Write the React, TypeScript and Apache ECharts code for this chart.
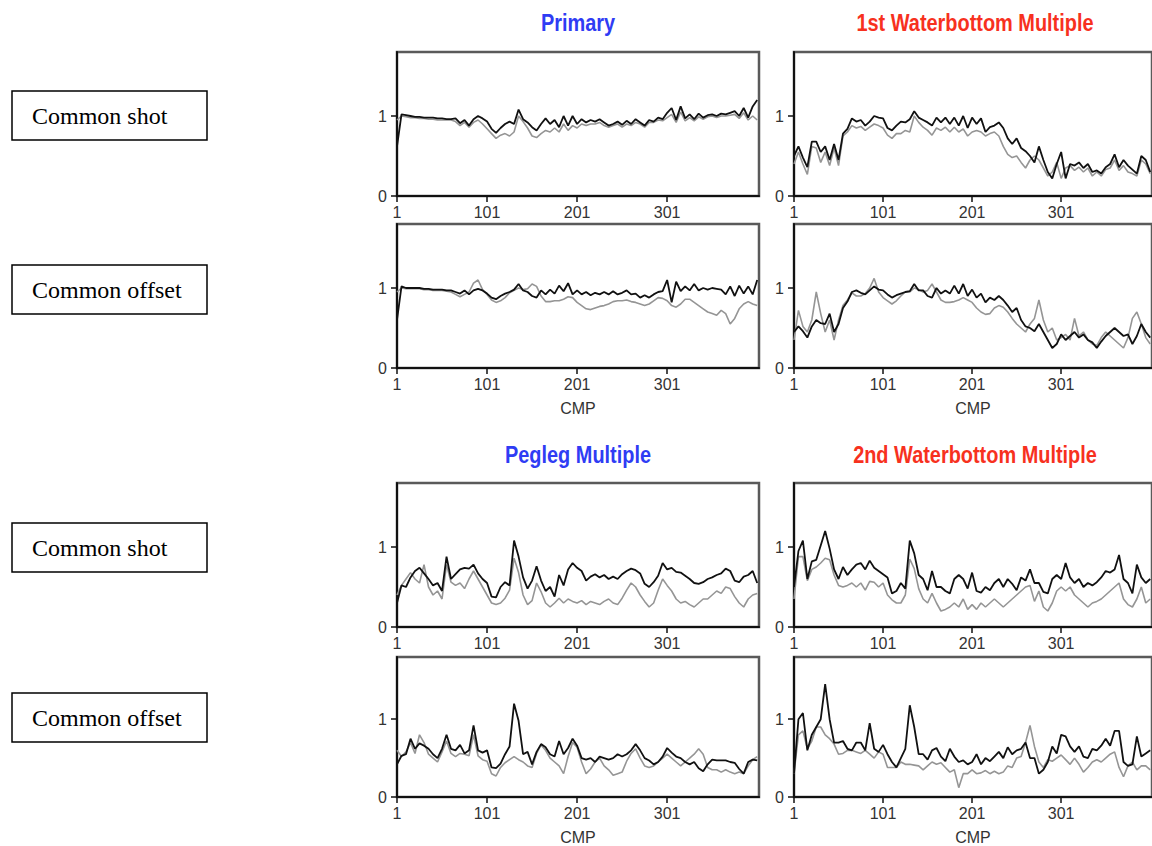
import React, { useEffect, useRef } from "react";
import * as echarts from "echarts";

const CMP = [
  1, 6, 11, 16, 21, 26, 31, 36, 41, 46,
  51, 56, 61, 66, 71, 76, 81, 86, 91, 96,
  101, 106, 111, 116, 121, 126, 131, 136, 141, 146,
  151, 156, 161, 166, 171, 176, 181, 186, 191, 196,
  201, 206, 211, 216, 221, 226, 231, 236, 241, 246,
  251, 256, 261, 266, 271, 276, 281, 286, 291, 296,
  301, 306, 311, 316, 321, 326, 331, 336, 341, 346,
  351, 356, 361, 366, 371, 376, 381, 386, 391, 396,
  401,
];

const X_TICKS = [1, 101, 201, 301];
const Y_TICKS = [0, 1];
const PANEL_TITLES = ["Primary", "1st Waterbottom Multiple", "Pegleg Multiple", "2nd Waterbottom Multiple"];
const ROW_LABELS = ["Common shot", "Common offset", "Common shot", "Common offset"];

// Primary - common shot
const PRIMARY_SHOT_BLACK = [
  0.62, 1.02, 1.01, 1.0, 0.99, 0.99, 0.98, 0.98, 0.98, 0.97,
  0.97, 0.96, 0.96, 0.97, 0.91, 0.95, 0.88, 0.96, 1.0, 0.97,
  0.93, 0.84, 0.79, 0.85, 0.9, 0.93, 0.9, 1.08, 0.96, 0.92,
  0.86, 0.82, 0.9, 0.97, 0.9, 0.95, 0.86, 1.0, 0.88, 1.0,
  0.9, 0.96, 0.92, 0.95, 0.93, 0.96, 0.92, 0.88, 0.9, 0.93,
  0.89, 0.94, 0.9, 0.96, 0.92, 0.88, 0.95, 0.93, 0.98, 0.96,
  1.04, 1.1, 0.95, 1.12, 0.97, 1.02, 0.96, 1.03, 0.98, 1.01,
  1.02, 1.0, 1.03, 1.02, 1.04, 1.06, 1.0, 1.1, 0.98, 1.12,
  1.2,
];
const PRIMARY_SHOT_GRAY = [
  0.95, 1.0, 0.99, 0.98, 0.98, 0.97, 0.97, 0.96, 0.96, 0.95,
  0.95, 0.95, 0.95, 0.93, 0.88, 0.92, 0.86, 0.92, 0.95, 0.9,
  0.84, 0.78, 0.72, 0.76, 0.78, 0.75, 0.8, 1.0, 0.93, 0.85,
  0.75, 0.73, 0.78, 0.82, 0.8, 0.85, 0.8, 0.9, 0.82, 0.88,
  0.85, 0.9, 0.88, 0.9, 0.9, 0.92, 0.88, 0.86, 0.88, 0.9,
  0.86, 0.9, 0.88, 0.92, 0.9, 0.86, 0.92, 0.92, 0.95, 0.94,
  0.98, 1.02, 0.92, 1.05, 0.94, 0.98, 0.94, 0.99, 0.96, 0.99,
  1.0, 0.98, 1.0, 1.0, 1.01, 1.02, 0.97, 1.04, 0.95, 1.0,
  0.95,
];

// Primary - common offset
const PRIMARY_OFFSET_BLACK = [
  0.6, 1.02, 1.0, 1.0, 1.0, 1.0, 0.99, 0.99, 0.98, 0.98,
  0.98, 0.97, 0.97, 0.95, 0.93, 0.97, 0.92, 0.97, 0.99, 0.97,
  0.93, 0.88, 0.86, 0.9, 0.93, 0.95, 0.98, 1.05, 0.97, 0.95,
  0.9, 0.88, 0.97, 0.92, 0.98, 0.93, 1.03, 0.96, 1.06, 0.92,
  0.97, 0.92, 0.95, 0.91, 0.94, 0.92, 0.95, 0.92, 0.96, 0.92,
  0.94, 0.97, 0.92, 0.93, 0.88, 0.91, 0.88, 0.92, 0.95, 0.96,
  1.1, 0.82, 1.08, 0.96, 1.02, 0.97, 1.05, 0.97, 1.0, 0.98,
  1.0, 0.99, 0.98, 0.92, 1.02, 0.9, 1.03, 0.93, 1.02, 0.92,
  1.1,
];
const PRIMARY_OFFSET_GRAY = [
  0.95, 1.0, 0.99, 0.99, 0.99, 0.99, 0.98, 0.98, 0.97, 0.97,
  0.97, 0.96, 0.95, 0.92, 0.89, 0.92, 0.95, 1.06, 1.1, 0.98,
  0.92, 0.85, 0.82, 0.84, 0.88, 0.94, 0.97, 1.0, 0.98, 0.99,
  1.05, 1.02, 0.9, 0.83, 0.83, 0.84, 0.84, 0.86, 0.89, 0.88,
  0.82, 0.78, 0.74, 0.73, 0.75, 0.77, 0.78, 0.8, 0.83, 0.84,
  0.84, 0.85, 0.83, 0.82, 0.8, 0.78, 0.8, 0.84, 0.88, 0.87,
  0.84, 0.78, 0.76, 0.8, 0.86, 0.86, 0.82, 0.78, 0.74, 0.7,
  0.68, 0.66, 0.72, 0.68, 0.55, 0.62, 0.74, 0.8, 0.83, 0.8,
  0.78,
];

// 1st waterbottom multiple - common shot
const WB1_SHOT_BLACK = [
  0.5, 0.62, 0.48, 0.36, 0.68, 0.68, 0.55, 0.62, 0.45, 0.65,
  0.45, 0.78, 0.84, 0.97, 0.93, 0.95, 0.88, 0.93, 1.0, 0.98,
  0.97, 0.85, 0.82, 0.88, 0.93, 0.92, 0.96, 1.06, 0.98, 0.95,
  0.92, 0.88, 0.98, 0.92, 0.98, 0.9, 0.98, 0.88, 1.0, 0.85,
  0.98, 0.9, 0.97, 0.8, 0.86, 0.88, 0.92, 0.85, 0.72, 0.65,
  0.72, 0.6, 0.56, 0.5, 0.42, 0.62, 0.45, 0.3, 0.22, 0.4,
  0.55, 0.22, 0.4, 0.38, 0.42, 0.35, 0.4, 0.3, 0.32, 0.28,
  0.36, 0.4, 0.52, 0.36, 0.45, 0.38, 0.33, 0.28, 0.5, 0.45,
  0.3,
];
const WB1_SHOT_GRAY = [
  0.4, 0.55, 0.4, 0.27, 0.62, 0.6, 0.42, 0.55, 0.38, 0.6,
  0.38, 0.75, 0.8, 0.88, 0.85, 0.87, 0.82, 0.86, 0.9, 0.88,
  0.85, 0.76, 0.72, 0.78, 0.78, 0.82, 0.8, 1.0, 0.92, 0.86,
  0.82, 0.76, 0.85, 0.82, 0.86, 0.8, 0.86, 0.8, 0.84, 0.75,
  0.8, 0.82, 0.8, 0.75, 0.78, 0.8, 0.75, 0.62, 0.52, 0.48,
  0.5, 0.42, 0.35, 0.45, 0.5, 0.45, 0.35, 0.25, 0.3, 0.42,
  0.22, 0.35, 0.38, 0.32, 0.36, 0.3, 0.35, 0.25, 0.3, 0.25,
  0.33, 0.35, 0.45, 0.32, 0.38, 0.3, 0.28, 0.25, 0.45, 0.4,
  0.28,
];

// 1st waterbottom multiple - common offset
const WB1_OFFSET_BLACK = [
  0.45, 0.52, 0.46, 0.38, 0.52, 0.6, 0.56, 0.55, 0.68, 0.45,
  0.55, 0.75, 0.83, 0.95, 0.97, 0.94, 0.92, 0.97, 1.02, 0.98,
  0.97, 0.92, 0.88, 0.91, 0.93, 0.95, 0.96, 1.05, 0.97, 0.97,
  0.9, 0.88, 1.0, 0.93, 0.97, 0.93, 1.03, 0.93, 1.05, 0.9,
  0.98, 0.88, 0.93, 0.82, 0.88, 0.85, 0.9, 0.85, 0.78, 0.7,
  0.75, 0.6, 0.52, 0.5, 0.46, 0.55, 0.45, 0.35, 0.25, 0.3,
  0.42, 0.35, 0.4, 0.45, 0.38, 0.42, 0.35, 0.32, 0.25, 0.33,
  0.4, 0.45, 0.5, 0.45, 0.4, 0.42, 0.3, 0.4, 0.55, 0.45,
  0.38,
];
const WB1_OFFSET_GRAY = [
  0.35, 0.72, 0.52, 0.45, 0.6, 0.95, 0.68, 0.45, 0.6, 0.35,
  0.6, 0.78, 0.85, 0.94, 0.9, 0.9, 0.93, 1.0, 1.12, 0.95,
  0.88, 0.84, 0.8, 0.84, 0.9, 0.95, 0.95, 1.0, 0.98, 0.95,
  0.97, 1.05, 0.95, 0.85, 0.82, 0.82, 0.83, 0.85, 0.88, 0.85,
  0.82, 0.75, 0.7, 0.67, 0.68, 0.75, 0.78, 0.76, 0.7, 0.62,
  0.55, 0.5, 0.45, 0.55, 0.62, 0.85, 0.6, 0.45, 0.5, 0.35,
  0.38, 0.42, 0.35, 0.62, 0.4, 0.45, 0.35, 0.3, 0.28, 0.38,
  0.45, 0.4, 0.35, 0.3, 0.25, 0.38, 0.62, 0.7, 0.55, 0.38,
  0.3,
];

// Pegleg multiple - common shot
const PEGLEG_SHOT_BLACK = [
  0.3, 0.52, 0.5, 0.62, 0.7, 0.74, 0.67, 0.6, 0.52, 0.55,
  0.45, 0.88, 0.6, 0.66, 0.72, 0.74, 0.73, 0.78, 0.67, 0.6,
  0.55, 0.38, 0.37, 0.5, 0.56, 0.52, 1.08, 0.88, 0.62, 0.48,
  0.58, 0.76, 0.58, 0.45, 0.5, 0.38, 0.65, 0.52, 0.72, 0.8,
  0.74, 0.7, 0.58, 0.63, 0.66, 0.62, 0.65, 0.6, 0.63, 0.6,
  0.66, 0.7, 0.73, 0.71, 0.67, 0.54, 0.5, 0.56, 0.64, 0.8,
  0.72, 0.74, 0.69, 0.68, 0.64, 0.6, 0.55, 0.54, 0.56, 0.6,
  0.62, 0.65, 0.67, 0.73, 0.7, 0.58, 0.56, 0.63, 0.65, 0.7,
  0.55,
];
const PEGLEG_SHOT_GRAY = [
  0.4, 0.52, 0.6, 0.68, 0.6, 0.55, 0.78, 0.5, 0.4, 0.45,
  0.35, 0.78, 0.56, 0.52, 0.55, 0.48, 0.6, 0.7, 0.6, 0.5,
  0.4, 0.3, 0.28, 0.3, 0.36, 0.46, 0.86, 0.68, 0.4, 0.28,
  0.33, 0.55, 0.44, 0.3, 0.25, 0.3, 0.36, 0.3, 0.35, 0.32,
  0.3, 0.33, 0.28, 0.32, 0.3, 0.28, 0.32, 0.35, 0.3, 0.28,
  0.36, 0.46, 0.55, 0.5, 0.4, 0.32, 0.25, 0.3, 0.46, 0.6,
  0.52, 0.45, 0.35, 0.3, 0.32, 0.28, 0.25, 0.3, 0.35, 0.35,
  0.4, 0.45, 0.42, 0.5, 0.48, 0.38, 0.3, 0.25, 0.35, 0.4,
  0.42,
];

// Pegleg multiple - common offset
const PEGLEG_OFFSET_BLACK = [
  0.42, 0.53, 0.55, 0.75, 0.62, 0.69, 0.66, 0.62, 0.55, 0.5,
  0.62, 0.8, 0.62, 0.6, 0.67, 0.56, 0.6, 0.92, 0.6, 0.57,
  0.6, 0.38, 0.37, 0.43, 0.55, 0.65, 1.2, 0.98, 0.55, 0.58,
  0.42, 0.58, 0.68, 0.64, 0.55, 0.52, 0.72, 0.55, 0.63, 0.75,
  0.66, 0.5, 0.48, 0.5, 0.45, 0.52, 0.5, 0.48, 0.5, 0.55,
  0.52, 0.55, 0.6, 0.68, 0.6, 0.5, 0.47, 0.42, 0.45, 0.52,
  0.63, 0.57, 0.52, 0.5, 0.45, 0.42, 0.45, 0.37, 0.33, 0.42,
  0.48, 0.47, 0.47, 0.47, 0.45, 0.44, 0.36, 0.3, 0.45, 0.48,
  0.47,
];
const PEGLEG_OFFSET_GRAY = [
  0.6, 0.52, 0.58, 0.7, 0.56, 0.8, 0.7, 0.55, 0.5, 0.45,
  0.58, 0.72, 0.56, 0.52, 0.56, 0.55, 0.53, 0.8, 0.53, 0.48,
  0.46, 0.3, 0.27, 0.38, 0.44, 0.48, 0.52, 0.48, 0.45, 0.4,
  0.38, 0.56, 0.67, 0.6, 0.5, 0.45, 0.4, 0.3, 0.52, 0.7,
  0.64, 0.45, 0.3, 0.36, 0.45, 0.5, 0.4, 0.35, 0.28, 0.3,
  0.32, 0.46, 0.56, 0.62, 0.5, 0.4, 0.38, 0.4, 0.45, 0.5,
  0.55, 0.5, 0.45, 0.4, 0.45, 0.5, 0.55, 0.62, 0.55, 0.38,
  0.35, 0.35, 0.32, 0.35, 0.32, 0.3, 0.32, 0.3, 0.4, 0.48,
  0.52,
];

// 2nd waterbottom multiple - common shot
const WB2_SHOT_BLACK = [
  0.5, 0.95, 1.08, 0.6, 0.82, 0.84, 1.02, 1.2, 0.98, 0.72,
  0.6, 0.75, 0.65, 0.72, 0.78, 0.8, 0.72, 0.83, 0.74, 0.7,
  0.66, 0.62, 0.42, 0.45, 0.55, 0.48, 1.08, 0.92, 0.65, 0.6,
  0.46, 0.7, 0.5, 0.5, 0.45, 0.42, 0.6, 0.65, 0.6, 0.48,
  0.68, 0.45, 0.43, 0.5, 0.46, 0.55, 0.6, 0.5, 0.6, 0.54,
  0.46, 0.62, 0.58, 0.72, 0.55, 0.55, 0.44, 0.42, 0.6, 0.65,
  0.6, 0.8, 0.62, 0.55, 0.6, 0.5, 0.55, 0.52, 0.56, 0.62,
  0.7, 0.68, 0.72, 0.9, 0.6, 0.55, 0.42, 0.78, 0.62, 0.55,
  0.6,
];
const WB2_SHOT_GRAY = [
  0.35, 0.88, 0.88, 0.58, 0.72, 0.75, 0.8, 0.86, 0.84, 0.65,
  0.52, 0.5, 0.52, 0.55, 0.5, 0.55, 0.46, 0.57, 0.56, 0.5,
  0.55, 0.4, 0.34, 0.3, 0.3, 0.4, 0.85, 0.73, 0.48, 0.35,
  0.3, 0.42, 0.3, 0.2, 0.22, 0.25, 0.3, 0.25, 0.35, 0.22,
  0.28, 0.22, 0.3, 0.25, 0.3, 0.35, 0.3, 0.25, 0.3, 0.35,
  0.4, 0.45, 0.5, 0.52, 0.32, 0.45, 0.25, 0.2, 0.3, 0.45,
  0.5, 0.45, 0.5, 0.4, 0.35, 0.3, 0.25, 0.3, 0.32, 0.35,
  0.4, 0.45, 0.5, 0.55, 0.35, 0.28, 0.25, 0.35, 0.5, 0.3,
  0.35,
];

// 2nd waterbottom multiple - common offset
const WB2_OFFSET_BLACK = [
  0.3, 1.0, 1.08, 0.6, 0.8, 0.9, 1.0, 1.45, 1.0, 0.7,
  0.7, 0.72, 0.62, 0.6, 0.7, 0.7, 0.6, 0.95, 0.62, 0.58,
  0.67, 0.55, 0.45, 0.38, 0.5, 0.62, 1.18, 0.9, 0.55, 0.55,
  0.48, 0.6, 0.63, 0.52, 0.46, 0.62, 0.52, 0.45, 0.47, 0.42,
  0.45, 0.55, 0.42, 0.5, 0.46, 0.52, 0.58, 0.5, 0.64, 0.55,
  0.6, 0.62, 0.7, 0.5, 0.5, 0.3, 0.35, 0.45, 0.65, 0.56,
  0.8, 0.78, 0.65, 0.58, 0.65, 0.52, 0.5, 0.62, 0.6, 0.66,
  0.75, 0.66, 0.85, 0.85, 0.45, 0.4, 0.42, 0.78, 0.52, 0.56,
  0.6,
];
const WB2_OFFSET_GRAY = [
  0.3, 0.8, 0.85, 0.62, 0.72, 0.9, 0.9, 0.8, 0.75, 0.68,
  0.55, 0.56, 0.6, 0.6, 0.58, 0.56, 0.6, 0.55, 0.5, 0.58,
  0.55, 0.38, 0.38, 0.38, 0.45, 0.42, 0.42, 0.41, 0.4, 0.35,
  0.4, 0.45, 0.42, 0.44, 0.38, 0.32, 0.35, 0.12, 0.3, 0.3,
  0.35, 0.3, 0.31, 0.34, 0.3, 0.33, 0.3, 0.32, 0.4, 0.38,
  0.5, 0.52, 0.7, 0.92, 0.65, 0.45, 0.38, 0.48, 0.46, 0.5,
  0.54, 0.48, 0.42, 0.5, 0.42, 0.32, 0.38, 0.45, 0.48, 0.45,
  0.5, 0.55, 0.58, 0.38, 0.26, 0.4, 0.45, 0.35, 0.4, 0.4,
  0.35,
];

const PANELS = [
  { col: 0, row: 0, black: PRIMARY_SHOT_BLACK, gray: PRIMARY_SHOT_GRAY },
  { col: 0, row: 1, black: PRIMARY_OFFSET_BLACK, gray: PRIMARY_OFFSET_GRAY },
  { col: 1, row: 0, black: WB1_SHOT_BLACK, gray: WB1_SHOT_GRAY },
  { col: 1, row: 1, black: WB1_OFFSET_BLACK, gray: WB1_OFFSET_GRAY },
  { col: 0, row: 2, black: PEGLEG_SHOT_BLACK, gray: PEGLEG_SHOT_GRAY },
  { col: 0, row: 3, black: PEGLEG_OFFSET_BLACK, gray: PEGLEG_OFFSET_GRAY },
  { col: 1, row: 2, black: WB2_SHOT_BLACK, gray: WB2_SHOT_GRAY },
  { col: 1, row: 3, black: WB2_OFFSET_BLACK, gray: WB2_OFFSET_GRAY },
];

const ROW_TOPS = [52, 224, 483, 657];
const COL_LEFTS = [397, 794];
const PLOT_W = 362;
const PLOT_H = 144;
const LABEL_BOX_TOPS = [91, 265, 523, 693];
const TITLE_POS = [
  { x: 578, y: 23, color: "#2f3cf4" },
  { x: 975, y: 23, color: "#f7311e" },
  { x: 578, y: 455, color: "#2f3cf4" },
  { x: 975, y: 455, color: "#f7311e" },
];

const AXIS_FONT = "'Liberation Sans', Arial, sans-serif";

export default function App() {
  const ref = useRef<HTMLDivElement>(null);

  useEffect(() => {
    if (!ref.current) return;
    const chart = echarts.init(ref.current, undefined, { renderer: "svg" });

    const grid: any[] = [];
    const xAxis: any[] = [];
    const yAxis: any[] = [];
    const series: any[] = [];

    PANELS.forEach((p, i) => {
      grid.push({
        left: COL_LEFTS[p.col],
        top: ROW_TOPS[p.row],
        width: PLOT_W,
        height: PLOT_H,
        show: true,
        borderColor: "#5a5a5a",
        borderWidth: 2.5,
        backgroundColor: "transparent",
      });
      const isBottom = p.row === 1 || p.row === 3;
      xAxis.push({
        type: "value",
        gridIndex: i,
        min: 1,
        max: 403,
        name: isBottom ? "CMP" : "",
        nameLocation: "middle",
        nameGap: 32,
        nameTextStyle: { fontFamily: AXIS_FONT, fontSize: 16, color: "#333" },
        axisLine: { show: true, onZero: false, lineStyle: { color: "#111", width: 2 } },
        axisTick: { show: true, customValues: X_TICKS, length: 6, lineStyle: { color: "#111", width: 1.5 } },
        axisLabel: { show: true, customValues: X_TICKS, margin: 8, fontFamily: AXIS_FONT, fontSize: 16, color: "#333" },
        splitLine: { show: false },
      });
      yAxis.push({
        type: "value",
        gridIndex: i,
        min: 0,
        max: 1.8,
        axisLine: { show: true, onZero: false, lineStyle: { color: "#111", width: 2 } },
        axisTick: { show: true, customValues: Y_TICKS, length: 6, lineStyle: { color: "#111", width: 1.5 } },
        axisLabel: { show: true, customValues: Y_TICKS, margin: 10, fontFamily: AXIS_FONT, fontSize: 16, color: "#333" },
        splitLine: { show: false },
      });
      series.push({
        type: "line",
        xAxisIndex: i,
        yAxisIndex: i,
        showSymbol: false,
        symbol: "none",
        lineStyle: { color: "#959595", width: 1.6 },
        data: CMP.map((c, j) => [c, p.gray[j]]),
        z: 2,
      });
      series.push({
        type: "line",
        xAxisIndex: i,
        yAxisIndex: i,
        showSymbol: false,
        symbol: "none",
        lineStyle: { color: "#111", width: 1.8 },
        data: CMP.map((c, j) => [c, p.black[j]]),
        z: 3,
      });
    });

    const graphic: any[] = [];
    PANEL_TITLES.forEach((t, i) => {
      graphic.push({
        type: "text",
        x: TITLE_POS[i].x,
        y: TITLE_POS[i].y,
        scaleX: 0.83,
        style: {
          text: t,
          fill: TITLE_POS[i].color,
          font: "bold 24px 'Liberation Sans', Arial, sans-serif",
          textAlign: "center",
          textVerticalAlign: "middle",
        },
      });
    });
    ROW_LABELS.forEach((t, i) => {
      graphic.push({
        type: "rect",
        shape: { x: 12, y: LABEL_BOX_TOPS[i], width: 195, height: 49 },
        style: { fill: "#fff", stroke: "#000", lineWidth: 1.5 },
      });
      graphic.push({
        type: "text",
        x: 32,
        y: LABEL_BOX_TOPS[i] + 25,
        style: {
          text: t,
          fill: "#000",
          font: "24px 'Liberation Serif', 'Times New Roman', serif",
          textAlign: "left",
          textVerticalAlign: "middle",
        },
      });
    });

    chart.setOption({
      animation: false,
      backgroundColor: "#fff",
      grid,
      xAxis,
      yAxis,
      series,
      graphic,
    });

    return () => chart.dispose();
  }, []);

  return (
    <div
      ref={ref}
      style={{ position: "absolute", left: 0, top: 0, width: 1152, height: 846 }}
    />
  );
}
